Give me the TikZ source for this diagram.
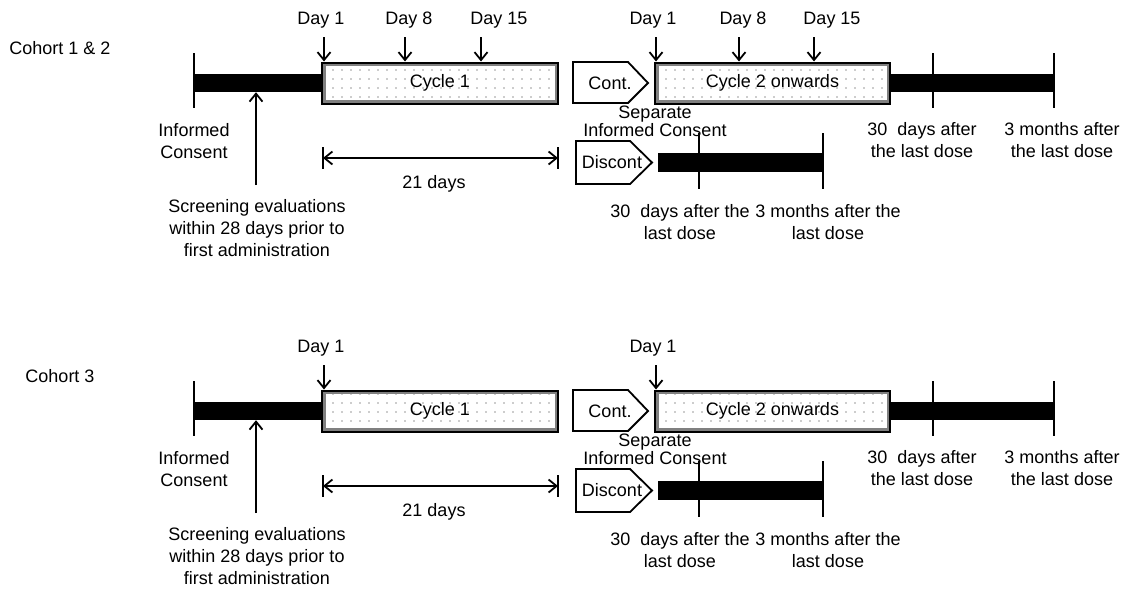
\documentclass[tikz,border=0pt]{standalone}
\usepackage{fontspec}
\setmainfont{Liberation Sans}
\usetikzlibrary{arrows.meta,patterns.meta}
\newcommand{\cohortrow}[2]{%
  % label
  \node (lab#1) at (60,48) {#2};
  % screening period
  \coordinate (st#1a) at (194,53);
  \coordinate (st#1b) at (194,108);
  \draw[tick] (st#1a) -- (st#1b);
  \node[bar, minimum width=128pt] (pre#1) at (258,83) {};
  % cycle 1
  \node[cyc, minimum width=236pt] (cycA#1) at (440,83) {Cycle 1};
  \node (dA#1) at (321,20) {Day 1};
  \coordinate (aA#1) at (324,37);
  \draw[arr] (aA#1) -- (aA#1 |- cycA#1.north);
  % cont
  \draw[pent] (573,62) -- (628,62) -- (648,83) -- (628,103) -- (573,103) -- cycle;
  \node (cont#1) at (610,83) {Cont.};
  % cycle 2
  \node[cyc, minimum width=235pt] (cycB#1) at (772.5,83) {Cycle 2 onwards};
  \node (dB#1) at (653,20) {Day 1};
  \coordinate (aB#1) at (656,37);
  \draw[arr] (aB#1) -- (aB#1 |- cycB#1.north);
  % follow up after cycle 2
  \node[bar, minimum width=164pt] (post#1) at (972,83) {};
  \coordinate (tA#1) at (933,53);
  \coordinate (tB#1) at (1054,53);
  \draw[tick] (tA#1) -- ++(0,55);
  \draw[tick] (tB#1) -- ++(0,55);
  \node[twoline] (fA#1) at (922,140) {30\ \ days after\\the last dose};
  \node[twoline] (fB#1) at (1062,140) {3 months after\\the last dose};
  \node[font=\fontsize{18}{18}\selectfont] (sep#1) at (655,121) {Separate\\Informed Consent};
  % informed consent / screening
  \node[twoline] (ic#1) at (194,141) {Informed\\Consent};
  \node[twoline] (scr#1) at (257,228) {Screening evaluations\\within 28 days prior to\\first administration};
  \coordinate (sa#1) at (256,185);
  \draw[arr] (sa#1) -- (sa#1 |- pre#1.south);
  % 21 days
  \coordinate (dl#1) at (323,158);
  \coordinate (dr#1) at (558,158);
  \draw[tick] ([yshift=11pt]dl#1) -- ([yshift=-11pt]dl#1);
  \draw[tick] ([yshift=11pt]dr#1) -- ([yshift=-11pt]dr#1);
  \draw[dim] (dl#1) -- (dr#1);
  \node (tw#1) at (434,184) {21 days};
  % discontinuation
  \draw[pent] (576,141) -- (630,141) -- (652,162.5) -- (630,184) -- (576,184) -- cycle;
  \node (dis#1) at (612,162.5) {Discont};
  \node[bar, minimum width=164pt, minimum height=19pt] (dpost#1) at (740,162) {};
  \coordinate (dtA#1) at (699,133);
  \coordinate (dtB#1) at (823,133);
  \draw[tick] (dtA#1) -- ++(0,56);
  \draw[tick] (dtB#1) -- ++(0,56);
  \node[twoline] (dfA#1) at (680,222) {30\ \ days after the\\last dose};
  \node[twoline] (dfB#1) at (828,222) {3 months after the\\last dose};
}
\begin{document}
\begin{tikzpicture}[x=1pt,y=-1pt,
  every node/.style={font=\fontsize{18}{21}\selectfont, inner sep=0pt, align=center},
  twoline/.style={font=\fontsize{18}{22}\selectfont},
  bar/.style={fill=black, minimum height=18pt, inner sep=0pt},
  tick/.style={line width=2.2pt},
  cyc/.style={draw, line width=2pt, pattern={Dots[radius=0.6pt,distance=9pt]}, pattern color=black!85,
    path picture={\draw[black!50,line width=7pt] (path picture bounding box.south west) rectangle (path picture bounding box.north east);},
    minimum height=41pt},
  arr/.style={line width=1.8pt, -{Straight Barb[length=8pt,width=13pt]}},
  dim/.style={line width=1.8pt, {Straight Barb[length=8pt,width=13pt]}-{Straight Barb[length=8pt,width=13pt]}},
  pent/.style={draw, line width=1.8pt, fill=white}
]
\useasboundingbox (0,0) rectangle (1123,592);
\begin{scope}
  \cohortrow{one}{Cohort 1 \& 2}
  \node (d8A) at (409,20) {Day 8};
  \coordinate (a8A) at (405,37);
  \draw[arr] (a8A) -- (a8A |- cycAone.north);
  \node (d15A) at (499,20) {Day 15};
  \coordinate (a15A) at (481,37);
  \draw[arr] (a15A) -- (a15A |- cycAone.north);
  \node (d8B) at (743,20) {Day 8};
  \coordinate (a8B) at (739,37);
  \draw[arr] (a8B) -- (a8B |- cycBone.north);
  \node (d15B) at (832,20) {Day 15};
  \coordinate (a15B) at (814,37);
  \draw[arr] (a15B) -- (a15B |- cycBone.north);
\end{scope}
\begin{scope}[shift={(0,328)}]
  \cohortrow{three}{Cohort 3}
\end{scope}
\end{tikzpicture}
\end{document}
